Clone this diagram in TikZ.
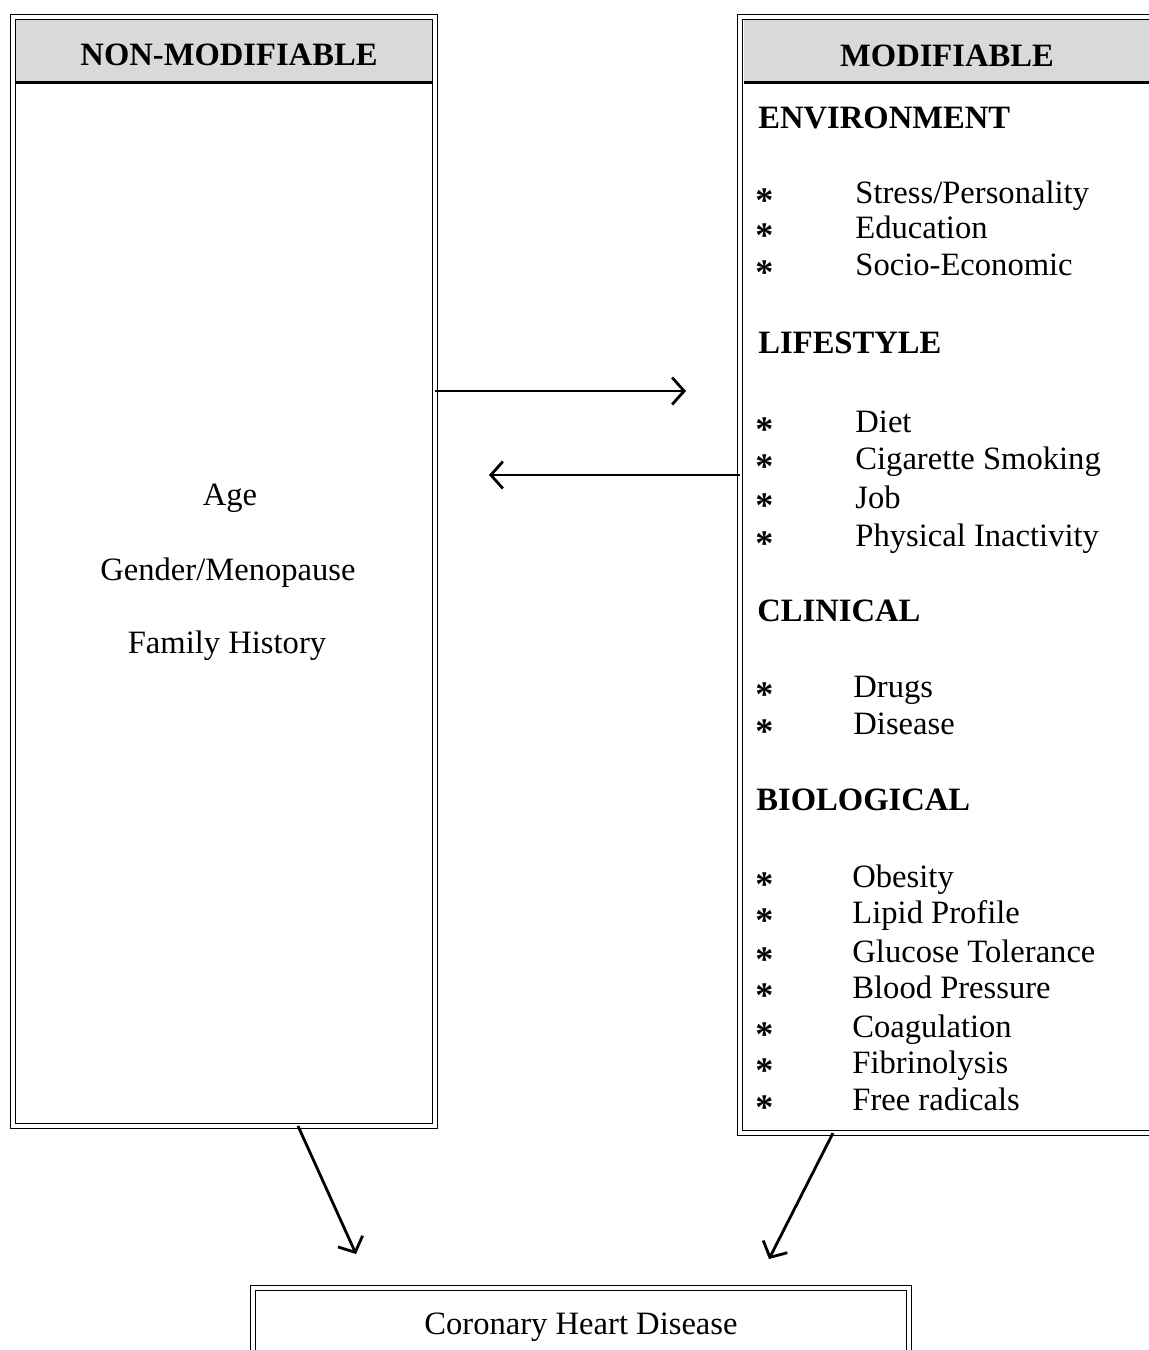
\documentclass[tikz,border=0pt]{standalone}
\usepackage{fontspec}
\setmainfont{Liberation Serif}
\usetikzlibrary{arrows.meta}

\begin{document}
\begin{tikzpicture}[x=0.5pt, y=-0.5pt,
        txt/.style = {font=\fontsize{16.3}{19}\selectfont, inner sep=0},
        panel/.style = {draw, double, line width=0.9pt, double distance=1.6pt, inner sep=0, outer sep=0, font=\fontsize{16.3}{19}\selectfont},
        band/.style = {fill=gray!30, inner sep=0, minimum width=207.6pt, minimum height=30.8pt},
        title/.style = {inner sep=0, font=\fontsize{16.3}{19}\selectfont\bfseries},
        heading/.style = {inner sep=0, anchor=base west, font=\fontsize{16.3}{19}\selectfont\bfseries},
        item/.style = {txt, anchor=base west},
        star/.style = {inner sep=0, anchor=base west, font=\fontsize{18}{19}\selectfont\bfseries},
        link/.style = {-{Straight Barb[length=6pt,width=13.5pt]}, line width=1.4pt}]
    \useasboundingbox (0,0) rectangle (1148,1350);
    \node[band] (fixedhead) at (224,51.2) {};
    \node[band] (changehead) at (951.5,51.2) {};
    \node[title] (fixedtitle) at (229,55) {NON-MODIFIABLE};
    \node[title] (changetitle) at (947,56) {MODIFIABLE};
    \draw[line width=1.5pt] (fixedhead.south west) -- (fixedhead.south east);
    \draw[line width=1.5pt] (changehead.south west) -- (changehead.south east);
    \node[panel, minimum width=211pt, minimum height=554.5pt] (fixed) at (224,571.5) {};
    \node[panel, minimum width=210pt, minimum height=558pt] (changeable) at (950,575) {};
    \node[panel, minimum width=328pt, minimum height=39pt] (chd) at (581,1327) {Coronary Heart Disease};
    % non-modifiable factors
    \node[txt, anchor=base] (age) at (230,505) {Age};
    \node[txt, anchor=base] (gender) at (228,580) {Gender/Menopause};
    \node[txt, anchor=base] (family) at (227,653) {Family History};
    % modifiable factors
    \node[heading] (env) at (758,128) {ENVIRONMENT};
    \node[star] (s1) at (755,212) {*}; \node[item] (stress) at (855,203) {Stress/Personality};
    \node[star] (s2) at (755,247) {*}; \node[item] (edu) at (855,238) {Education};
    \node[star] (s3) at (755,284) {*}; \node[item] (socio) at (855,275) {Socio-Economic};
    \node[heading] (life) at (758,353) {LIFESTYLE};
    \node[star] (s4) at (755,441) {*}; \node[item] (diet) at (855,432) {Diet};
    \node[star] (s5) at (755,478) {*}; \node[item] (smoke) at (855,469) {Cigarette Smoking};
    \node[star] (s6) at (755,517) {*}; \node[item] (job) at (855,508) {Job};
    \node[star] (s7) at (755,555) {*}; \node[item] (inact) at (855,546) {Physical Inactivity};
    \node[heading] (clin) at (757,621) {CLINICAL};
    \node[star] (s8) at (755,706) {*}; \node[item] (drugs) at (853,697) {Drugs};
    \node[star] (s9) at (755,743) {*}; \node[item] (dis) at (853,734) {Disease};
    \node[heading] (bio) at (756,810) {BIOLOGICAL};
    \node[star] (s10) at (755,896) {*}; \node[item] (obes) at (852,887) {Obesity};
    \node[star] (s11) at (755,932) {*}; \node[item] (lipid) at (852,923) {Lipid Profile};
    \node[star] (s12) at (755,971) {*}; \node[item] (gluc) at (852,962) {Glucose Tolerance};
    \node[star] (s13) at (755,1007) {*}; \node[item] (bp) at (852,998) {Blood Pressure};
    \node[star] (s14) at (755,1046) {*}; \node[item] (coag) at (852,1037) {Coagulation};
    \node[star] (s15) at (755,1082) {*}; \node[item] (fibr) at (852,1073) {Fibrinolysis};
    \node[star] (s16) at (755,1119) {*}; \node[item] (free) at (852,1110) {Free radicals};
    % connectors
    \coordinate (fwdtip) at (686,391);
    \coordinate (backtip) at (489,475);
    \coordinate (lefttip) at (356,1254);
    \coordinate (righttip) at (769,1259);
    \draw[link] (fixed.east |- fwdtip) -- (fwdtip);
    \draw[link] (changeable.west |- backtip) -- (backtip);
    \draw[link] ([xshift=37pt]fixed.south) -- (lefttip);
    \draw[link] ([xshift=-58.5pt]changeable.south) -- (righttip);
\end{tikzpicture}
\end{document}
